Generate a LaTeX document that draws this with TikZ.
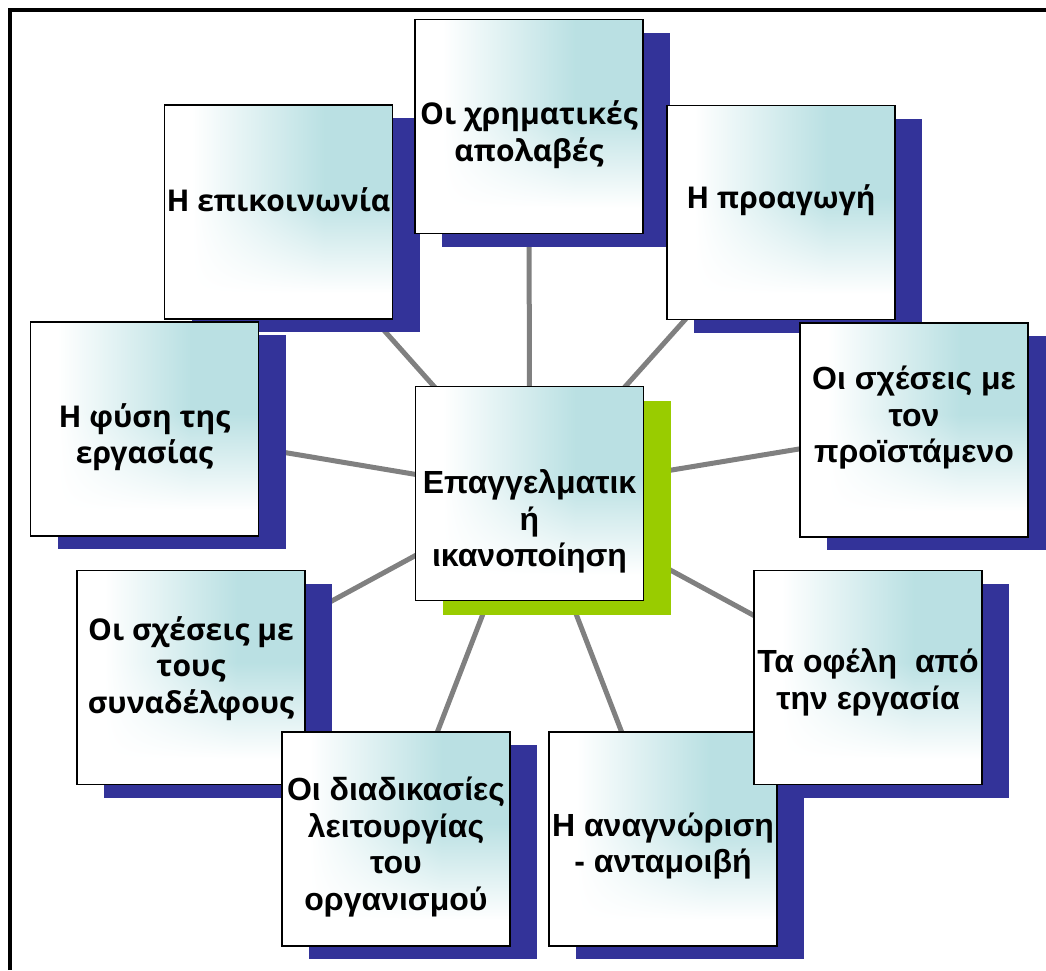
\documentclass[tikz,border=0pt]{standalone}
\usepackage{fontspec}
\setmainfont{Liberation Sans}
\newfontfamily\osans{Open Sans}
\usetikzlibrary{shadows}
\pgfdeclarelayer{background}
\pgfsetlayers{background,main}
\definecolor{sblue}{RGB}{51,51,153}
\definecolor{sgreen}{RGB}{153,204,0}
\definecolor{lgray}{RGB}{128,128,128}
\pgfdeclarefunctionalshading{boxshade}{\pgfpointorigin}{\pgfpoint{100bp}{100bp}}{}{
 25 sub 50 div 0.12 sub 0.45 div dup abs add 2 div dup 1 sub abs neg 1 add add 2 div
 exch
 25 sub 50 div 0.12 sub 0.58 div dup abs add 2 div dup 1 sub abs neg 1 add add 2 div
 mul
 dup 0.27 mul 1 exch sub
 exch dup 0.12 mul 1 exch sub
 exch 0.11 mul 1 exch sub
}
\tikzset{
  basebox/.style={draw=black, line width=1.5pt, shade, shading=boxshade,
    minimum width=228pt, minimum height=214pt, inner sep=0pt},
  box/.style={basebox, general shadow={shadow xshift=27pt, shadow yshift=-13pt, fill=sblue}},
  cbox/.style={basebox, general shadow={shadow xshift=27pt, shadow yshift=-14pt, fill=sgreen}},
  txt/.style={font=\fontsize{32}{36.5}\selectfont\bfseries, align=center, inner sep=0pt},
  txtb/.style={font=\osans\fontsize{30}{36.5}\selectfont\bfseries, align=center, inner sep=0pt},
  link/.style={draw=lgray, line width=5pt},
  frameline/.style={draw=black, line width=4pt}
}
\begin{document}
\begin{tikzpicture}[x=1pt, y=-1pt]
\useasboundingbox (0,0) rectangle (1046,970);
\coordinate (f1) at (9.5,970);
\coordinate (f2) at (9.5,10);
\coordinate (f3) at (1046,10);
\draw[frameline] (f1) -- (f2) -- (f3);

\node[box] (epik) at (278.5,212) {};
\node[txtb] (tepik) at ([yshift=12pt]epik.center) {Η επικοινωνία};

\node[box] (xrim) at (529,126.5) {};
\node[txtb] (txrim) at ([yshift=-8pt]xrim.center) {Οι χρηματικές\\απολαβές};

\node[box] (proag) at (781,212.5) {};
\node[txtb] (tproag) at ([yshift=12pt]proag.center) {Η προαγωγή};

\node[box] (fysi) at (144.5,429) {};
\node[txtb] (tfysi) at ([yshift=-8pt]fysi.center) {Η φύση της\\εργασίας};

\node[box] (proist) at (914,430) {};
\node[txt] (tproist) at ([yshift=12pt]proist.center) {Οι σχέσεις με\\τον\\προϊστάμενο};

\node[cbox] (cen) at (529.5,493.5) {};
\node[txt] (tcen) at ([yshift=-28pt]cen.center) {Επαγγελματικ\\ή\\ικανοποίηση};

\node[box] (synad) at (191,677.5) {};
\node[txtb] (tsynad) at ([yshift=9pt]synad.center) {Οι σχέσεις με\\τους\\συναδέλφους};

\node[box] (diad) at (396,839) {};
\node[txt] (tdiad) at ([yshift=-8pt]diad.center) {Οι διαδικασίες\\λειτουργίας\\του\\οργανισμού};

\node[box] (anagn) at (663,839) {};
\node[txt] (tanagn) at ([yshift=-7pt]anagn.center) {Η αναγνώριση\\- ανταμοιβή};

\node[box] (ofel) at (868,677.5) {};
\node[txt] (tofel) at ([yshift=-5pt]ofel.center) {Τα οφέλη\ \ από\\την εργασία};

\begin{pgfonlayer}{background}
\foreach \n in {epik,xrim,proag,fysi,proist,synad,diad,anagn,ofel}
  \draw[link] (cen.center) -- (\n.center);
\end{pgfonlayer}
\end{tikzpicture}
\end{document}
